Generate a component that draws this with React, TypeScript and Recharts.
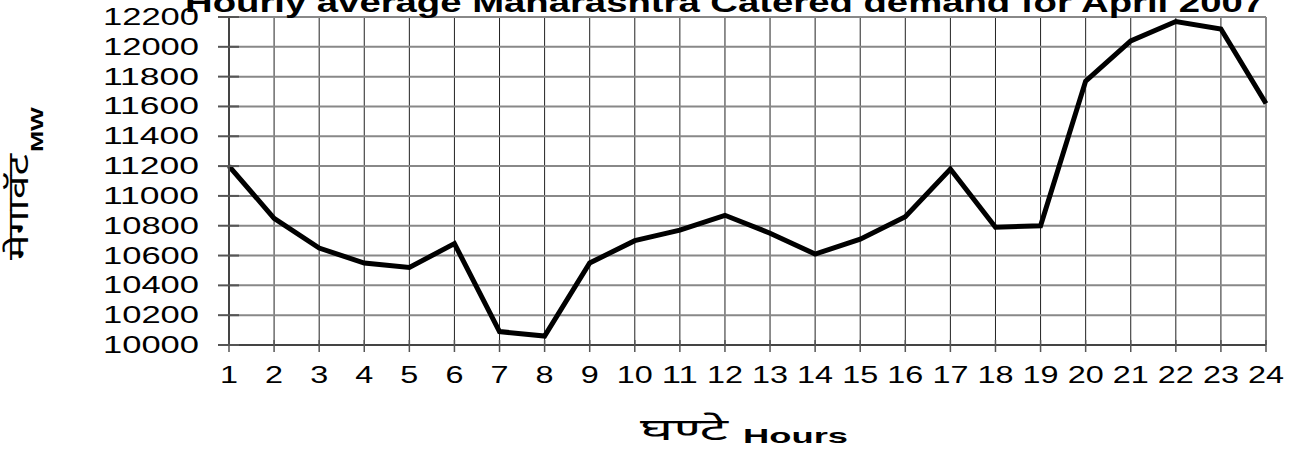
import { LineChart, Line, XAxis, YAxis, CartesianGrid, Label } from "recharts";

const hours = [1, 2, 3, 4, 5, 6, 7, 8, 9, 10, 11, 12, 13, 14, 15, 16, 17, 18, 19, 20, 21, 22, 23, 24];
const demandMW = [
  11200, 10850, 10650, 10550, 10520, 10680, 10090, 10060, 10550, 10700, 10770, 10870,
  10750, 10610, 10710, 10860, 11180, 10790, 10800, 11770, 12040, 12170, 12120, 11620,
];
const yTicks = [10000, 10200, 10400, 10600, 10800, 11000, 11200, 11400, 11600, 11800, 12000, 12200];

const title = "Hourly average Maharashtra Catered demand for April 2007";
const yLabel = "मेगावॅट";
const yUnit = "MW";
const xLabel = "घण्टे";
const xUnit = "Hours";

const data = hours.map((h, i) => ({ hour: h, mw: demandMW[i] }));

const W = 1301;
const H = 453;
const LEFT = 229;
const TOP = 17;
const RIGHT = 1266;
const BOTTOM = 345;

const SANS = "'Liberation Sans', Arial, Helvetica, sans-serif";
const DEVA = "'Noto Sans Devanagari', 'Lohit Devanagari', 'Noto Sans', sans-serif";

function YTick(props: any) {
  const { y, payload } = props;
  const s = String(payload.value);
  const len = s.length * 19.2;
  return (
    <g>
      <line x1={LEFT - 11} x2={LEFT + 10} y1={y} y2={y} stroke="#555" strokeWidth={2} />
      <text x={199 - len} y={y + 8} fontFamily={SANS} fontSize={23} fill="#000" textLength={len} lengthAdjust="spacingAndGlyphs">
        {s}
      </text>
    </g>
  );
}

function XTick(props: any) {
  const { x, payload } = props;
  const s = String(payload.value);
  const len = s.length * 18;
  return (
    <g>
      <line x1={x} x2={x} y1={BOTTOM - 5} y2={BOTTOM + 7} stroke="#555" strokeWidth={1.5} />
      <text x={x - len / 2} y={383} fontFamily={SANS} fontSize={24} fill="#000" textLength={len} lengthAdjust="spacingAndGlyphs">
        {s}
      </text>
    </g>
  );
}

function YTitle() {
  return (
    <g transform="translate(28, 260) rotate(-90)">
      <text x={0} y={0} fontFamily={DEVA} fontWeight={400} fontSize={29} fill="#000" textLength={106} lengthAdjust="spacingAndGlyphs">
        {yLabel}
      </text>
      <text x={108} y={15} fontFamily={SANS} fontWeight="bold" fontSize={17} fill="#000" textLength={45} lengthAdjust="spacingAndGlyphs">
        {yUnit}
      </text>
    </g>
  );
}

function XTitle() {
  return (
    <g>
      <text x={640} y={440} fontFamily={DEVA} fontWeight={400} fontSize={30} fill="#000" textLength={88} lengthAdjust="spacingAndGlyphs">
        {xLabel}
      </text>
      <text x={743} y={443} fontFamily={SANS} fontWeight="bold" fontSize={21} fill="#000" textLength={105} lengthAdjust="spacingAndGlyphs">
        {xUnit}
      </text>
    </g>
  );
}

export default function App() {
  return (
    <div style={{ position: "absolute", left: 0, top: 0, width: W, height: H, background: "#fff" }}>
      <LineChart width={W} height={H} data={data} margin={{ top: TOP, right: W - RIGHT, bottom: 0, left: 0 }}>
        <CartesianGrid horizontal={false} stroke="#222" strokeWidth={1} />
        <CartesianGrid vertical={false} stroke="#888" strokeWidth={2} />
        <XAxis
          dataKey="hour"
          type="number"
          domain={[1, 24]}
          ticks={hours}
          interval={0}
          height={H - BOTTOM}
          axisLine={{ stroke: "#444", strokeWidth: 2 }}
          tickLine={false}
          tick={<XTick />}
        >
          <Label content={<XTitle />} />
        </XAxis>
        <YAxis
          type="number"
          domain={[10000, 12200]}
          ticks={yTicks}
          interval={0}
          width={LEFT}
          axisLine={{ stroke: "#444", strokeWidth: 2 }}
          tickLine={false}
          tick={<YTick />}
        >
          <Label content={<YTitle />} />
        </YAxis>
        <line x1={RIGHT} x2={RIGHT} y1={TOP} y2={BOTTOM} stroke="#888" strokeWidth={2} />
        <Line type="linear" dataKey="mw" stroke="#000" strokeWidth={5} dot={false} isAnimationActive={false} />
      </LineChart>
      <svg width={W} height={H} style={{ position: "absolute", left: 0, top: 0, pointerEvents: "none" }}>
        <text x={185} y={12} fontFamily={SANS} fontWeight="bold" fontSize={27} fill="#000" textLength={1079} lengthAdjust="spacingAndGlyphs">
          {title}
        </text>
      </svg>
    </div>
  );
}
